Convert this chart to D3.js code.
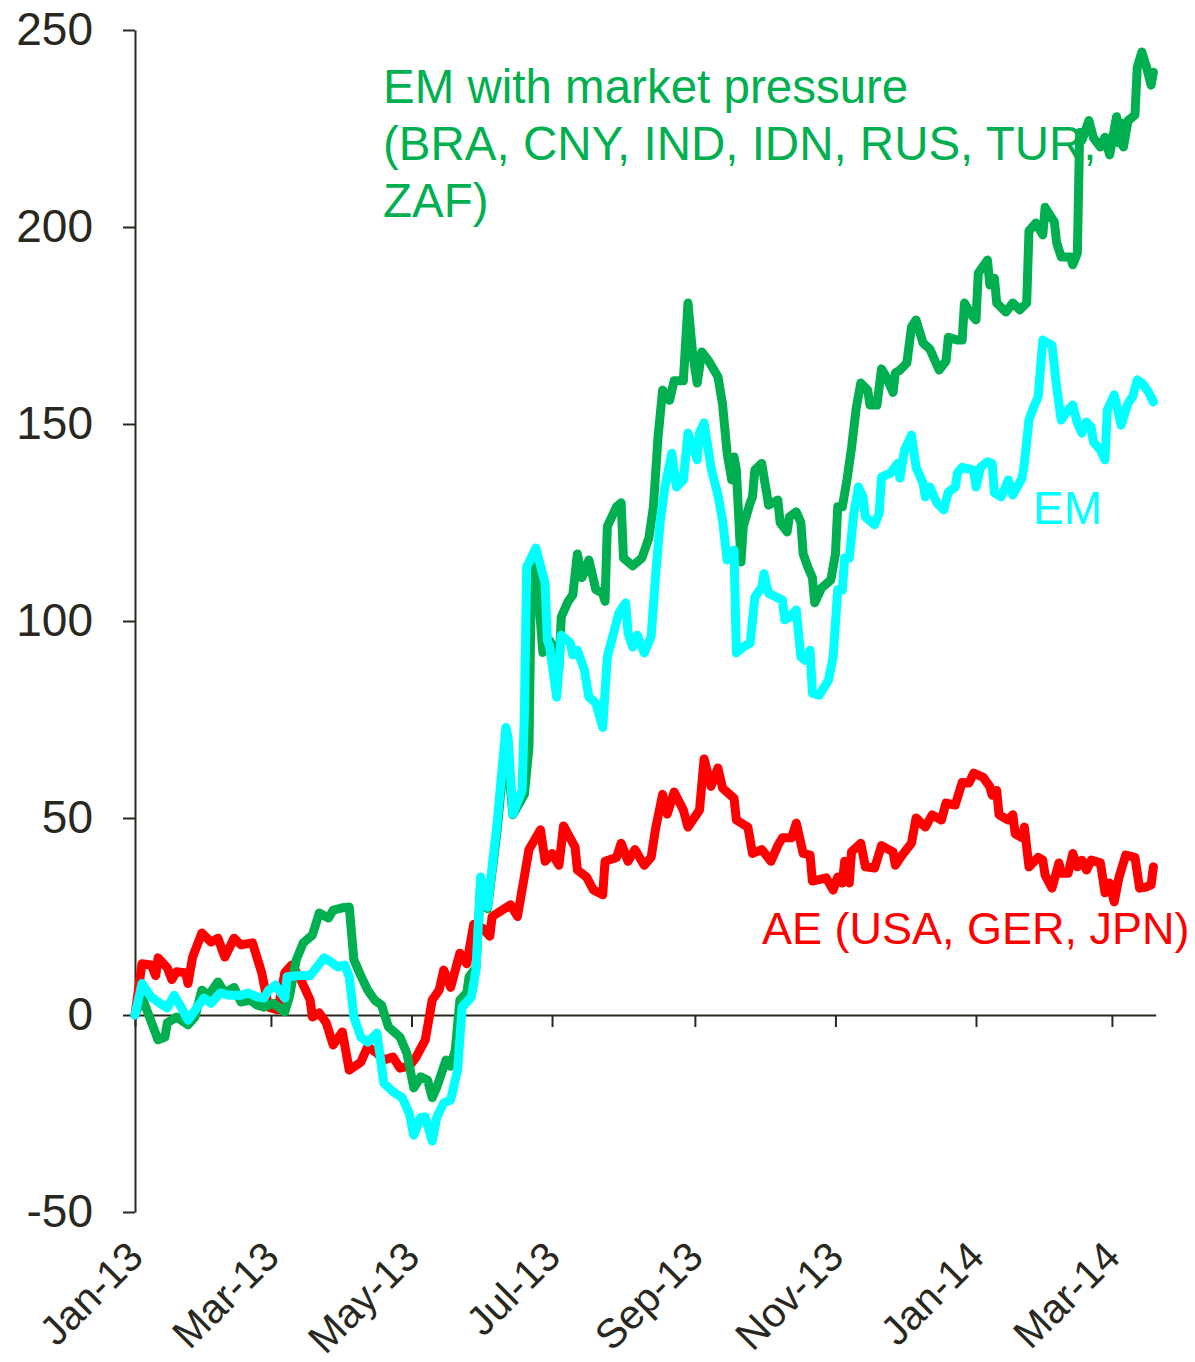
<!DOCTYPE html>
<html>
<head>
<meta charset="utf-8">
<script src="https://cdn.jsdelivr.net/npm/d3@7"></script>
<style>
  body { margin: 0; background: #fff; }
  svg text { font-family: "Liberation Sans", Arial, sans-serif; }
</style>
</head>
<body>
<div id="chart"></div>
<script>
// values, [date, index]
const aeSeries = [
  ["2013-01-01", 0], ["2013-01-04", 13], ["2013-01-08", 12.7], ["2013-01-10", 10], ["2013-01-11", 14.5],
  ["2013-01-15", 12], ["2013-01-17", 9], ["2013-01-19", 11], ["2013-01-23", 10.7], ["2013-01-24", 8],
  ["2013-01-26", 14.7], ["2013-01-30", 20.8], ["2013-02-03", 18.5], ["2013-02-06", 19.5], ["2013-02-09", 14.7],
  ["2013-02-13", 19.5], ["2013-02-16", 17.8], ["2013-02-21", 18.3], ["2013-02-25", 10.7], ["2013-02-28", 2],
  ["2013-03-04", 1.3], ["2013-03-07", 10.7], ["2013-03-10", 12.7], ["2013-03-14", 9], ["2013-03-18", 3.8],
  ["2013-03-19", -0.5], ["2013-03-22", 0.5], ["2013-03-25", -2], ["2013-03-28", -7.6], ["2013-04-01", -4.3],
  ["2013-04-04", -14], ["2013-04-09", -12], ["2013-04-12", -8], ["2013-04-16", -9.7], ["2013-04-19", -11.4],
  ["2013-04-23", -10.7], ["2013-04-26", -13.5], ["2013-04-30", -13], ["2013-05-03", -10.7], ["2013-05-07", -6.3],
  ["2013-05-10", 3.8], ["2013-05-13", 6.3], ["2013-05-15", 11.4], ["2013-05-18", 7], ["2013-05-22", 15.7],
  ["2013-05-25", 13], ["2013-05-28", 23], ["2013-06-01", 22], ["2013-06-04", 20], ["2013-06-05", 25],
  ["2013-06-13", 28], ["2013-06-16", 25], ["2013-06-21", 42], ["2013-06-26", 47], ["2013-06-28", 39],
  ["2013-07-01", 41], ["2013-07-04", 38], ["2013-07-06", 48], ["2013-07-11", 42.6], ["2013-07-12", 36.8],
  ["2013-07-16", 35], ["2013-07-19", 31.7], ["2013-07-23", 30.5], ["2013-07-24", 39], ["2013-07-29", 40],
  ["2013-07-31", 43.6], ["2013-08-03", 39], ["2013-08-06", 42], ["2013-08-10", 38], ["2013-08-13", 40],
  ["2013-08-15", 47.5], ["2013-08-18", 56], ["2013-08-20", 51], ["2013-08-23", 56.6], ["2013-08-27", 52],
  ["2013-08-29", 47.7], ["2013-09-03", 52], ["2013-09-05", 65], ["2013-09-08", 58], ["2013-09-11", 62.7],
  ["2013-09-13", 57.6], ["2013-09-18", 55], ["2013-09-19", 49.5], ["2013-09-24", 47.7], ["2013-09-26", 41],
  ["2013-09-30", 42], ["2013-10-04", 39], ["2013-10-07", 43], ["2013-10-09", 45], ["2013-10-13", 45],
  ["2013-10-15", 48.7], ["2013-10-18", 41], ["2013-10-21", 40.6], ["2013-10-22", 34], ["2013-10-28", 34.8],
  ["2013-10-31", 31.7], ["2013-11-02", 35], ["2013-11-04", 33.5], ["2013-11-05", 39], ["2013-11-07", 33.5],
  ["2013-11-08", 41.4], ["2013-11-12", 43.6], ["2013-11-14", 37.6], ["2013-11-18", 37.3], ["2013-11-21", 43],
  ["2013-11-26", 41.4], ["2013-11-27", 38], ["2013-11-30", 40.6], ["2013-12-04", 43.6], ["2013-12-06", 50],
  ["2013-12-10", 47.7], ["2013-12-13", 50.8], ["2013-12-17", 49.5], ["2013-12-19", 53.8], ["2013-12-23", 53.3],
  ["2013-12-26", 59], ["2013-12-29", 58.9], ["2013-12-31", 61.4], ["2014-01-04", 60.4], ["2014-01-07", 58],
  ["2014-01-08", 55.8], ["2014-01-10", 57], ["2014-01-11", 50.8], ["2014-01-15", 49.5], ["2014-01-17", 50.8],
  ["2014-01-18", 46], ["2014-01-21", 45], ["2014-01-22", 47.7], ["2014-01-24", 37.6], ["2014-01-28", 40],
  ["2014-01-30", 39.3], ["2014-01-31", 35.5], ["2014-02-03", 32.2], ["2014-02-06", 38.6], ["2014-02-07", 36],
  ["2014-02-10", 36], ["2014-02-12", 41], ["2014-02-14", 37.6], ["2014-02-16", 39.3], ["2014-02-18", 36.8],
  ["2014-02-20", 39.3], ["2014-02-24", 38.6], ["2014-02-26", 31], ["2014-02-28", 33.5], ["2014-03-02", 28.7],
  ["2014-03-04", 34.8], ["2014-03-07", 40.6], ["2014-03-11", 40], ["2014-03-13", 32.2], ["2014-03-16", 32.5],
  ["2014-03-18", 33], ["2014-03-19", 37.6]
];

const emPressureSeries = [
  ["2013-01-01", 0], ["2013-01-04", 4.6], ["2013-01-11", -6.3], ["2013-01-14", -5.6], ["2013-01-15", -2],
  ["2013-01-19", -0.5], ["2013-01-24", -2.5], ["2013-01-27", -0.5], ["2013-01-30", 6.3], ["2013-02-02", 5],
  ["2013-02-06", 8.4], ["2013-02-09", 5.6], ["2013-02-13", 7], ["2013-02-16", 3.3], ["2013-02-20", 3.8],
  ["2013-02-23", 2.5], ["2013-02-26", 2], ["2013-03-02", 3], ["2013-03-07", 0.8], ["2013-03-09", 4.6],
  ["2013-03-12", 14], ["2013-03-15", 18.3], ["2013-03-19", 20.3], ["2013-03-22", 25.9], ["2013-03-26", 24.6],
  ["2013-03-28", 26.6], ["2013-04-01", 27.2], ["2013-04-04", 27.4], ["2013-04-06", 14], ["2013-04-09", 10],
  ["2013-04-12", 6.3], ["2013-04-15", 3.8], ["2013-04-18", 2.5], ["2013-04-21", -3], ["2013-04-26", -5.6],
  ["2013-04-29", -9.7], ["2013-05-02", -18.5], ["2013-05-05", -15.7], ["2013-05-08", -16.5], ["2013-05-10", -21],
  ["2013-05-12", -18.3], ["2013-05-16", -11.4], ["2013-05-18", -13], ["2013-05-20", -8.9], ["2013-05-22", 3.8],
  ["2013-05-25", 5.6], ["2013-05-26", 9.7], ["2013-05-29", 12], ["2013-05-31", 33], ["2013-06-03", 27],
  ["2013-06-07", 46], ["2013-06-11", 70], ["2013-06-14", 50.8], ["2013-06-19", 56], ["2013-06-21", 68],
  ["2013-06-22", 109.6], ["2013-06-24", 115], ["2013-06-27", 92], ["2013-06-30", 95], ["2013-07-02", 93],
  ["2013-07-04", 88], ["2013-07-05", 101], ["2013-07-08", 105], ["2013-07-10", 106.6], ["2013-07-12", 117],
  ["2013-07-14", 111], ["2013-07-17", 115.5], ["2013-07-20", 108], ["2013-07-23", 107], ["2013-07-24", 105],
  ["2013-07-25", 124], ["2013-07-29", 129], ["2013-07-31", 130], ["2013-08-01", 116], ["2013-08-05", 114],
  ["2013-08-09", 116], ["2013-08-12", 121], ["2013-08-14", 129], ["2013-08-16", 146.7], ["2013-08-18", 158.6],
  ["2013-08-21", 156], ["2013-08-23", 161], ["2013-08-27", 161], ["2013-08-29", 180.7], ["2013-08-31", 168],
  ["2013-09-02", 160.4], ["2013-09-04", 168.3], ["2013-09-07", 166], ["2013-09-11", 162], ["2013-09-13", 155],
  ["2013-09-15", 142.6], ["2013-09-17", 135.8], ["2013-09-18", 141.6], ["2013-09-19", 138.3], ["2013-09-21", 115],
  ["2013-09-22", 124], ["2013-09-25", 130], ["2013-09-26", 131.5], ["2013-09-27", 138.3], ["2013-09-30", 140],
  ["2013-10-02", 133], ["2013-10-03", 129.4], ["2013-10-07", 130.7], ["2013-10-08", 125], ["2013-10-11", 122.6],
  ["2013-10-12", 126.4], ["2013-10-15", 127.7], ["2013-10-17", 125], ["2013-10-18", 117], ["2013-10-20", 113.7],
  ["2013-10-22", 111], ["2013-10-23", 104.6], ["2013-10-26", 108.4], ["2013-10-30", 110.4], ["2013-11-01", 117],
  ["2013-11-02", 129], ["2013-11-04", 129], ["2013-11-06", 135.8], ["2013-11-08", 144], ["2013-11-10", 154],
  ["2013-11-12", 160.4], ["2013-11-15", 158.6], ["2013-11-16", 154.8], ["2013-11-19", 154.8], ["2013-11-21", 164],
  ["2013-11-23", 162], ["2013-11-26", 158], ["2013-11-27", 163], ["2013-11-29", 163.7], ["2013-12-02", 165.5],
  ["2013-12-04", 174.6], ["2013-12-06", 176.4], ["2013-12-09", 170.6], ["2013-12-12", 169], ["2013-12-16", 163.7],
  ["2013-12-19", 166], ["2013-12-20", 172], ["2013-12-24", 171.3], ["2013-12-26", 171.3], ["2013-12-27", 180.7],
  ["2013-12-30", 177.7], ["2014-01-01", 176.4], ["2014-01-02", 188.3], ["2014-01-06", 191.6], ["2014-01-07", 185.3],
  ["2014-01-09", 187], ["2014-01-10", 180.7], ["2014-01-14", 178.4], ["2014-01-17", 180.7], ["2014-01-20", 179],
  ["2014-01-23", 180.7], ["2014-01-24", 199], ["2014-01-27", 201], ["2014-01-30", 198], ["2014-01-31", 205],
  ["2014-02-04", 201.3], ["2014-02-05", 196], ["2014-02-07", 192.4], ["2014-02-11", 192.4], ["2014-02-12", 190.4],
  ["2014-02-14", 193.4], ["2014-02-15", 224], ["2014-02-16", 222], ["2014-02-19", 227], ["2014-02-21", 222.6],
  ["2014-02-24", 220.3], ["2014-02-26", 222.8], ["2014-02-28", 218.3], ["2014-03-03", 228], ["2014-03-04", 221.3],
  ["2014-03-05", 226.4], ["2014-03-06", 220.3], ["2014-03-08", 227], ["2014-03-11", 228.4], ["2014-03-12", 240.6],
  ["2014-03-14", 244.4], ["2014-03-16", 240.6], ["2014-03-18", 236], ["2014-03-19", 239.3]
];

const emSeries = [
  ["2013-01-01", 0], ["2013-01-04", 8], ["2013-01-08", 4.6], ["2013-01-11", 3.3], ["2013-01-15", 1.8],
  ["2013-01-18", 5], ["2013-01-21", 2], ["2013-01-24", -1.3], ["2013-01-28", 2], ["2013-01-31", 4.3],
  ["2013-02-03", 3], ["2013-02-07", 5.6], ["2013-02-11", 5], ["2013-02-16", 5], ["2013-02-19", 5.6],
  ["2013-02-23", 4.6], ["2013-02-26", 4.3], ["2013-02-28", 6.3], ["2013-03-03", 7.6], ["2013-03-05", 5.8],
  ["2013-03-07", 4.3], ["2013-03-08", 9.7], ["2013-03-14", 10], ["2013-03-18", 10], ["2013-03-21", 12.2],
  ["2013-03-24", 14.5], ["2013-03-27", 13.5], ["2013-03-30", 12.2], ["2013-04-02", 12.7], ["2013-04-04", 9.7],
  ["2013-04-06", -0.5], ["2013-04-09", -5.6], ["2013-04-12", -6.9], ["2013-04-16", -4.6], ["2013-04-19", -17.3],
  ["2013-04-23", -19.5], ["2013-04-27", -21], ["2013-04-30", -24.9], ["2013-05-02", -30.5], ["2013-05-05", -26],
  ["2013-05-07", -25.9], ["2013-05-10", -32], ["2013-05-12", -25.9], ["2013-05-15", -22.3], ["2013-05-18", -21.6],
  ["2013-05-21", -14], ["2013-05-23", 2], ["2013-05-27", 4.6], ["2013-05-29", 11.4], ["2013-05-31", 35],
  ["2013-06-03", 27.4], ["2013-06-07", 47.7], ["2013-06-11", 73], ["2013-06-12", 70], ["2013-06-14", 51],
  ["2013-06-18", 57], ["2013-06-19", 76.6], ["2013-06-20", 113.7], ["2013-06-24", 118.5], ["2013-06-28", 109.6],
  ["2013-06-29", 95], ["2013-06-30", 93.4], ["2013-07-03", 80.7], ["2013-07-04", 88.3], ["2013-07-05", 96.4],
  ["2013-07-09", 94.4], ["2013-07-10", 91.4], ["2013-07-12", 92.6], ["2013-07-15", 87.6], ["2013-07-17", 80.7],
  ["2013-07-20", 79.2], ["2013-07-23", 73], ["2013-07-25", 90.9], ["2013-07-30", 102], ["2013-08-02", 104.6],
  ["2013-08-03", 97], ["2013-08-05", 93.4], ["2013-08-07", 96.4], ["2013-08-10", 91.9], ["2013-08-13", 96],
  ["2013-08-15", 112], ["2013-08-17", 125.6], ["2013-08-19", 134], ["2013-08-22", 142.6], ["2013-08-24", 134],
  ["2013-08-27", 135.8], ["2013-08-29", 147.7], ["2013-09-02", 140.9], ["2013-09-03", 147.7], ["2013-09-05", 150.3],
  ["2013-09-08", 139], ["2013-09-09", 136.5], ["2013-09-11", 132], ["2013-09-13", 125.6], ["2013-09-15", 115.5],
  ["2013-09-18", 118], ["2013-09-19", 91.9], ["2013-09-22", 93.4], ["2013-09-25", 94.4], ["2013-09-27", 106],
  ["2013-09-30", 108.6], ["2013-10-01", 112], ["2013-10-03", 107], ["2013-10-09", 105.3], ["2013-10-10", 100.3],
  ["2013-10-12", 101], ["2013-10-15", 102.8], ["2013-10-17", 90.9], ["2013-10-19", 90], ["2013-10-21", 92.6],
  ["2013-10-22", 81.7], ["2013-10-25", 81.2], ["2013-10-29", 85], ["2013-10-31", 90.9], ["2013-11-02", 107.9],
  ["2013-11-04", 107.9], ["2013-11-05", 116], ["2013-11-07", 116], ["2013-11-09", 127.4], ["2013-11-11", 134],
  ["2013-11-13", 131.5], ["2013-11-14", 126.4], ["2013-11-18", 124.4], ["2013-11-20", 127.4], ["2013-11-21", 136.5],
  ["2013-11-25", 137.6], ["2013-11-28", 140], ["2013-11-29", 136.3], ["2013-12-01", 143.4], ["2013-12-04", 147.2],
  ["2013-12-06", 139], ["2013-12-09", 135], ["2013-12-10", 131.5], ["2013-12-12", 134], ["2013-12-15", 130],
  ["2013-12-18", 128.2], ["2013-12-20", 132.7], ["2013-12-23", 134], ["2013-12-24", 137.6], ["2013-12-26", 139],
  ["2013-12-31", 138.3], ["2014-01-01", 134], ["2014-01-03", 139], ["2014-01-06", 140.4], ["2014-01-08", 140],
  ["2014-01-09", 132.5], ["2014-01-12", 131.5], ["2014-01-15", 135.8], ["2014-01-17", 132], ["2014-01-21", 136.3],
  ["2014-01-22", 140], ["2014-01-24", 151], ["2014-01-26", 154.3], ["2014-01-28", 156.9], ["2014-01-30", 171.3],
  ["2014-02-03", 170], ["2014-02-05", 159.4], ["2014-02-07", 151], ["2014-02-10", 153.6], ["2014-02-12", 154.8],
  ["2014-02-14", 150.3], ["2014-02-16", 147.7], ["2014-02-18", 150.5], ["2014-02-20", 149.2], ["2014-02-21", 145.4],
  ["2014-02-24", 143.4], ["2014-02-26", 140.9], ["2014-02-27", 153.6], ["2014-03-02", 157.4], ["2014-03-05", 149.7],
  ["2014-03-08", 155.3], ["2014-03-10", 156.9], ["2014-03-12", 161.2], ["2014-03-14", 160.4], ["2014-03-17", 158],
  ["2014-03-19", 155.6]
];

const yTicks = [-50, 0, 50, 100, 150, 200, 250];
const xTicks = ["2013-01-01", "2013-03-01", "2013-05-01", "2013-07-01", "2013-09-01", "2013-11-01", "2014-01-01", "2014-03-01"];
const emPressureLabel = ["EM with market pressure", "(BRA, CNY, IND, IDN, RUS, TUR,", "ZAF)"];
const emLabel = "EM";
const aeLabel = "AE (USA, GER, JPN)";

const W = 1195, H = 1362;
const axisColor = "#28281f";
const parse = d3.timeParse("%Y-%m-%d");

const svg = d3.select("#chart").append("svg")
  .attr("width", W)
  .attr("height", H);

// scales -- plot spans x 135..1156, y 30..1212
const x = d3.scaleTime()
  .domain([parse("2013-01-01"), parse("2014-03-20")])
  .range([135, 1155.7]);
const y = d3.scaleLinear()
  .domain([-50, 250])
  .range([1212, 30]);

// y axis (plain hyphen for negatives, like the original)
const yAxis = svg.append("g")
  .attr("transform", "translate(135,0)")
  .call(d3.axisLeft(y).tickValues(yTicks).tickSize(12).tickSizeOuter(0).tickPadding(30)
    .tickFormat(d => String(d)));
yAxis.select(".domain").attr("stroke", axisColor).attr("stroke-width", 2);
yAxis.selectAll(".tick line").attr("stroke", axisColor).attr("stroke-width", 2);
yAxis.selectAll(".tick text")
  .attr("fill", axisColor)
  .style("font-size", "46px");

// x axis sits on zero, labels pushed down under the plot
const xAxis = svg.append("g")
  .attr("transform", "translate(0," + y(0) + ")")
  .call(d3.axisBottom(x).tickValues(xTicks.map(parse)).tickSize(12).tickSizeOuter(0)
    .tickFormat(d3.timeFormat("%b-%y")));
xAxis.select(".domain").attr("stroke", axisColor).attr("stroke-width", 2);
xAxis.selectAll(".tick line").attr("stroke", axisColor).attr("stroke-width", 2);
xAxis.selectAll(".tick text")
  .attr("fill", axisColor)
  .attr("x", null).attr("y", null).attr("dy", null)
  .attr("text-anchor", "end")
  .attr("transform", "translate(10," + (1259 - y(0)) + ") rotate(-45)")
  .style("font-size", "41px");

// lines: red under green under cyan
const line = d3.line()
  .x(d => x(parse(d[0])))
  .y(d => y(d[1]));

const series = [
  { data: aeSeries, color: "#ff0000" },
  { data: emPressureSeries, color: "#00b050" },
  { data: emSeries, color: "#00ffff" }
];

svg.append("g").selectAll("path")
  .data(series)
  .enter().append("path")
  .attr("d", d => line(d.data))
  .attr("fill", "none")
  .attr("stroke", d => d.color)
  .attr("stroke-width", 9)
  .attr("stroke-linejoin", "round")
  .attr("stroke-linecap", "round");

// labels
svg.append("text")
  .attr("x", 383)
  .attr("y", 103)
  .attr("fill", "#00b050")
  .style("font-size", "47.5px")
  .selectAll("tspan")
  .data(emPressureLabel)
  .enter().append("tspan")
  .attr("x", 383)
  .attr("dy", (d, i) => i === 0 ? 0 : 57)
  .text(d => d);

svg.append("text")
  .attr("x", 1033)
  .attr("y", 524)
  .attr("fill", "#00ffff")
  .style("font-size", "46px")
  .text(emLabel);

svg.append("text")
  .attr("x", 762)
  .attr("y", 944)
  .attr("fill", "#ff0000")
  .style("font-size", "45px")
  .text(aeLabel);
</script>
</body>
</html>
